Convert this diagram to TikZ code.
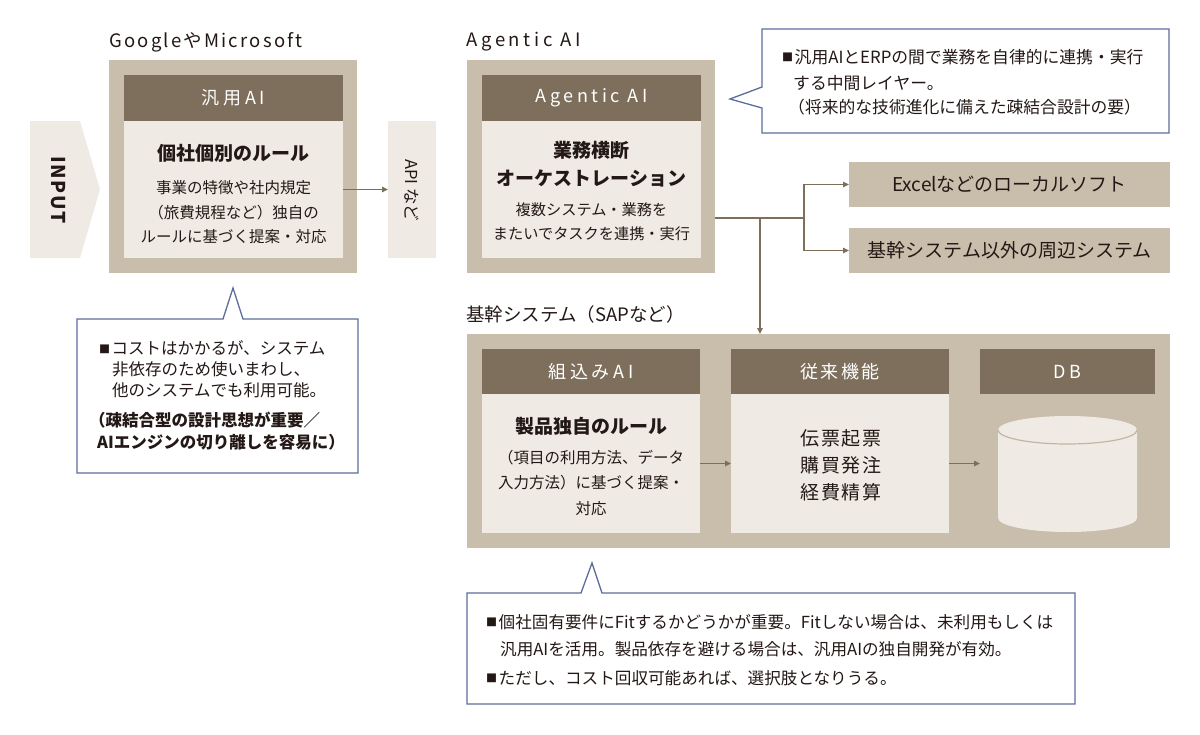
\documentclass[tikz,border=0pt]{standalone}
\usepackage{fontspec}
\setmainfont{Noto Sans CJK JP}
\newfontfamily\trk[LetterSpace=20]{Noto Sans CJK JP}
\newfontfamily\trkm[LetterSpace=12]{Noto Sans CJK JP}
\newfontfamily\trks[LetterSpace=8]{Noto Sans CJK JP}
\usetikzlibrary{arrows.meta}
\definecolor{tanc}{HTML}{C9BEAB}
\definecolor{darkc}{HTML}{7E6F5D}
\definecolor{lightc}{HTML}{EFEBE4}
\definecolor{callc}{HTML}{5D6D9C}
\definecolor{inkc}{HTML}{231815}
\definecolor{rimc}{HTML}{C2B6A2}
\newcommand\fsz[2]{\fontsize{#1}{#2}\selectfont}
\newcommand\sq{\raisebox{1.5pt}{\fsz{11}{11}■}\hspace{1.5pt}}
\tikzset{
  box/.style={inner sep=0pt, outer sep=0pt, draw=none},
  outerbox/.style={box, fill=tanc},
  hdrbox/.style={box, fill=darkc, text=white, font=\trk\fsz{18}{22}},
  bodybox/.style={box, fill=lightc},
  sidebox/.style={box, fill=tanc, text=inkc, font=\fsz{19}{22}},
  lbl/.style={inner sep=0pt, anchor=west, text=inkc, font=\trkm\fsz{18.5}{22}},
  ttl/.style={inner sep=0pt, align=center, text=inkc, font=\bfseries\fsz{19}{28}},
  desc/.style={inner sep=0pt, align=center, text=inkc, font=\fsz{15.5}{24.5}},
  note/.style={inner sep=0pt, anchor=west, text=inkc, font=\fsz{16.5}{21}},
  noteb/.style={note, font=\bfseries\fsz{16.5}{21}},
  notel/.style={note, font=\fsz{16.8}{24}},
  conn/.style={draw=darkc, line width=1.3pt, -{Triangle[length=6pt,width=5.5pt]}},
  wire/.style={draw=darkc, line width=1.3pt},
  callout/.style={draw=callc, line width=1.3pt, fill=white, line join=miter},
}
\begin{document}
\begin{tikzpicture}[x=1pt,y=-1pt]
\useasboundingbox[fill=white] (0,0) rectangle (1200,734);

% ---------- INPUT ----------
\fill[lightc] (30,121) -- (80,121) -- (100,189.5) -- (80,258) -- (30,258) -- cycle;
\node[inner sep=0pt, rotate=-90, text=inkc, font=\trks\bfseries\fsz{19}{22}] (inp) at (58,190) {INPUT};

% ---------- Google / Microsoft ----------
\node[lbl] (lgo) at (109,42) {GoogleやMicrosoft};
\node[outerbox, minimum width=248pt, minimum height=213pt] (go) at (233,166.5) {};
\node[hdrbox, minimum width=219pt, minimum height=46pt] (goh) at (233.5,98) {汎用AI};
\node[bodybox, minimum width=219pt, minimum height=137pt] (gob) at (233.5,189.5) {};
\node[ttl] (got) at (233.5,153) {個社個別のルール};
\node[desc] (god) at (233.5,212.5) {事業の特徴や社内規定\\（旅費規程など）独自の\\ルールに基づく提案・対応};

% API box
\node[box, fill=lightc, minimum width=48pt, minimum height=137pt] (api) at (412,189.5) {};
\node[inner sep=0pt, rotate=-90, text=inkc, font=\fsz{16.5}{20}] (apit) at (412,190) {API など};
\draw[conn] (gob.east) -- (api.west);

% ---------- Agentic AI ----------
\node[lbl, font=\trk\fsz{18.5}{22}] (lag) at (466,42) {Agentic AI};
\node[outerbox, minimum width=248pt, minimum height=213pt] (ag) at (591,166.5) {};
\node[hdrbox, minimum width=219pt, minimum height=46pt] (agh) at (591.5,98) {Agentic AI};
\node[bodybox, minimum width=219pt, minimum height=137pt] (agb) at (591.5,189.5) {};
\node[ttl] (agt) at (591.5,164) {業務横断\\オーケストレーション};
\node[desc, font=\fsz{15.2}{24}] (agd) at (591.5,222) {複数システム・業務を\\またいでタスクを連携・実行};

% side boxes
\node[sidebox, minimum width=321pt, minimum height=45pt] (ex) at (1009.5,184.5) {Excelなどのローカルソフト};
\node[sidebox, minimum width=321pt, minimum height=45pt] (pe) at (1009.5,250.5) {基幹システム以外の周辺システム};

% ---------- SAP ----------
\node[lbl, font=\fsz{18.5}{22}] (lsap) at (466,314) {基幹システム（SAPなど）};
\node[outerbox, minimum width=703pt, minimum height=214pt] (sap) at (818.5,441) {};
\node[hdrbox, minimum width=218pt, minimum height=45pt] (kh) at (591,371.5) {組込みAI};
\node[bodybox, minimum width=218pt, minimum height=139pt] (kb) at (591,463.5) {};
\node[ttl] (kt) at (591,426) {製品独自のルール};
\node[desc, font=\fsz{15.5}{25.5}] (kd) at (591,482.5) {（項目の利用方法、データ\\入力方法）に基づく提案・\\対応};

\node[hdrbox, font=\trkm\fsz{18}{22}, minimum width=218pt, minimum height=45pt] (jh) at (840,371.5) {従来機能};
\node[bodybox, minimum width=218pt, minimum height=139pt] (jb) at (840,463.5) {};
\node[inner sep=0pt, align=center, text=inkc, font=\trks\fsz{19}{27}] (jd) at (841,465) {伝票起票\\購買発注\\経費精算};

\node[hdrbox, minimum width=175pt, minimum height=45pt] (dh) at (1067.5,371.5) {DB};
\node[box, minimum width=175pt, minimum height=139pt] (dcol) at (1067.5,463.5) {};
% cylinder
\fill[lightc] (998,430) -- (998,518) arc[start angle=180, end angle=0, x radius=69.5, y radius=14] -- (1137,430) -- cycle;
\fill[lightc] (1067.5,430) ellipse [x radius=69.5, y radius=14];
\draw[rimc, line width=1.2pt] (998,430) arc[start angle=180, end angle=0, x radius=69.5, y radius=14];

\draw[conn] (kb.east) -- (jb.west);
\draw[conn] (jb.east) -- (dcol.west);

% ---------- connectors from Agentic ----------
\coordinate (j0) at (760,218);
\coordinate (j1) at (804,218);
\draw[wire] (ag.east |- j0) -- (j1);
\draw[conn] (j1) |- (ex.west);
\draw[conn] (j1) |- (pe.west);
\draw[conn] (j0) -- (j0 |- sap.north);

% ---------- callout 1 ----------
\draw[callout] (77,319) -- (223,319) -- (233,288) -- (243,319) -- (358,319) -- (358,473) -- (77,473) -- cycle;
\node[note] (c1a) at (99,348) {\sq コストはかかるが、システム};
\node[note] (c1b) at (112,369) {非依存のため使いまわし、};
\node[note] (c1c) at (112,390) {他のシステムでも利用可能。};
\node[noteb] (c1d) at (89,420) {（疎結合型の設計思想が重要／};
\node[noteb] (c1e) at (97,442) {AIエンジンの切り離しを容易に）};

% ---------- callout 2 ----------
\draw[callout] (762,29) -- (1169,29) -- (1169,133) -- (762,133) -- (762,108) -- (730,99) -- (762,87) -- cycle;
\node[notel] (c2a) at (782,57) {\sq 汎用AIとERPの間で業務を自律的に連携・実行};
\node[notel] (c2b) at (793,83) {する中間レイヤー。};
\node[notel] (c2c) at (788,107) {（将来的な技術進化に備えた疎結合設計の要）};

% ---------- callout 3 ----------
\draw[callout] (467,593) -- (581,593) -- (592,563) -- (602,593) -- (1075,593) -- (1075,704) -- (467,704) -- cycle;
\node[notel, font=\fsz{16.6}{24}] (c3a) at (486,622) {\sq 個社固有要件にFitするかどうかが重要。Fitしない場合は、未利用もしくは};
\node[notel, font=\fsz{16.6}{24}] (c3b) at (500,649) {汎用AIを活用。製品依存を避ける場合は、汎用AIの独自開発が有効。};
\node[notel, font=\fsz{16.6}{24}] (c3c) at (486,678) {\sq ただし、コスト回収可能あれば、選択肢となりうる。};
\end{tikzpicture}
\end{document}
